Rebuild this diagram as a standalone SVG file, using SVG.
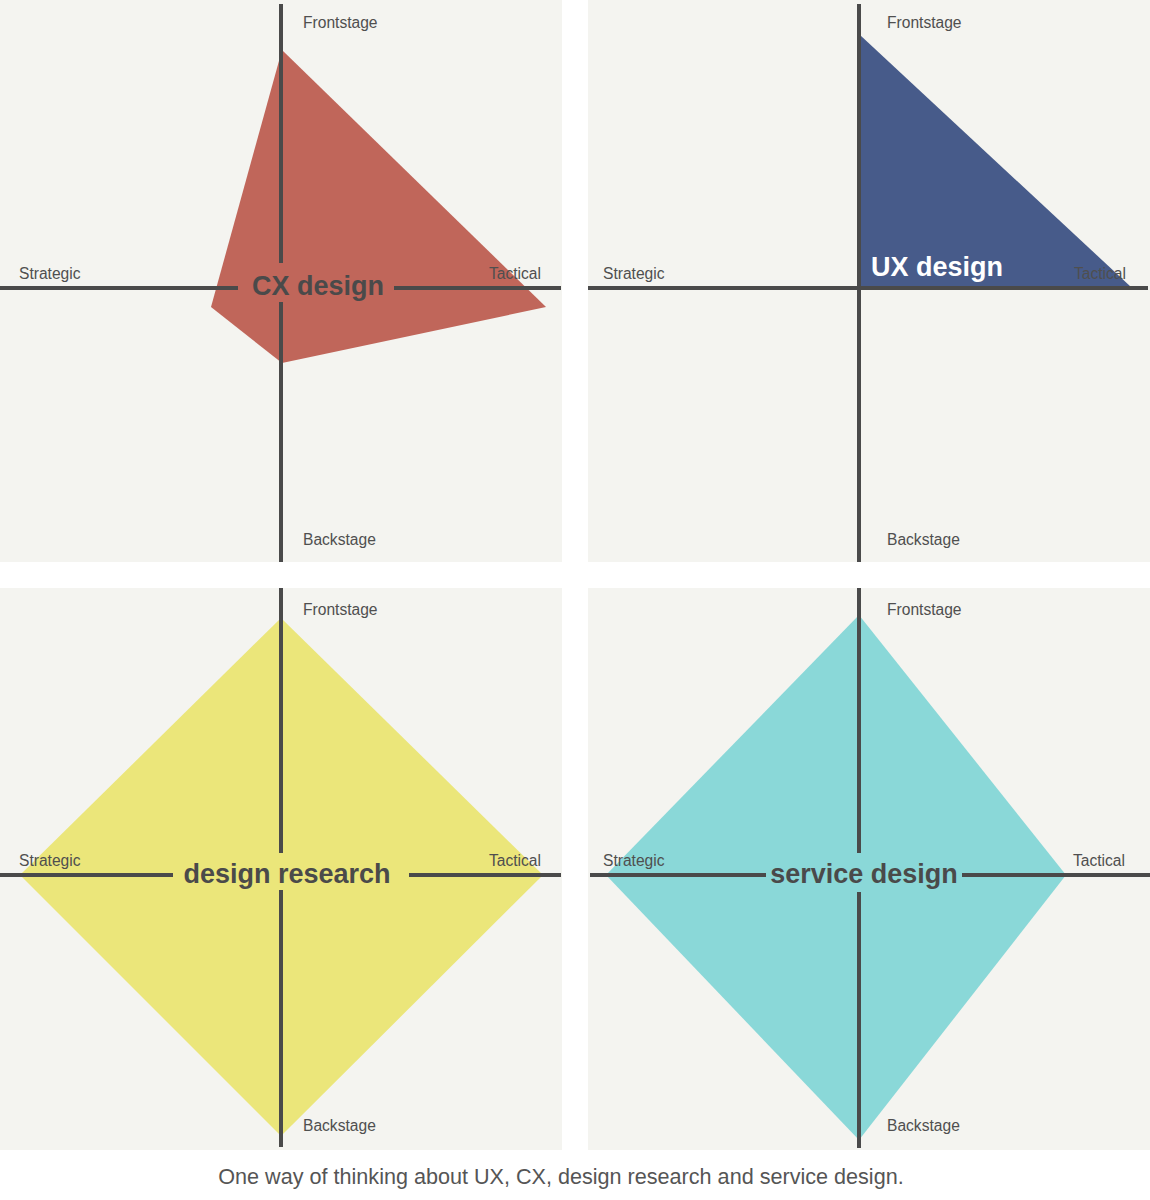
<svg xmlns="http://www.w3.org/2000/svg" width="1150" height="1200" viewBox="0 0 1150 1200">
<style>
.bg{fill:#f4f4f0}
.ax{stroke:#4a4a4a;stroke-width:4;fill:none}
.lbl{font-family:"Liberation Sans",Arial,sans-serif;font-size:15.6px;fill:#4f4f4f}
.big{font-family:"Liberation Sans",Arial,sans-serif;font-size:27px;font-weight:bold;fill:#4a4a4a}
.cap{font-family:"Liberation Sans",Arial,sans-serif;font-size:21.6px;fill:#555}
</style>
<rect width="1150" height="1200" fill="#ffffff"/>
<g id="panel-cx">
<rect class="bg" x="0" y="0" width="562" height="562"/>
<polygon points="282,50 546,307 282,363 211,307" fill="#c0665a"/>
</g>
<g id="panel-ux">
<rect class="bg" x="588" y="0" width="562" height="562"/>
<polygon points="860,35 1131,287 860,287" fill="#475b8a"/>
</g>
<g id="panel-dr">
<rect class="bg" x="0" y="588" width="562" height="562"/>
<polygon points="281,618 543,875 281,1136 20,875" fill="#ebe67a"/>
</g>
<g id="panel-sd">
<rect class="bg" x="588" y="588" width="562" height="562"/>
<polygon points="859,615 1066,875 859,1140 606,875" fill="#8ad8d8"/>
</g>
<g id="connectors">
<path class="ax" d="M281,4 V263 M281,302 V562 M0,288 H238 M394,288 H561"/>
<path class="ax" d="M859,4 V562 M588,288 H1148"/>
<path class="ax" d="M281,588 V853 M281,890 V1147 M0,875 H173 M409,875 H561"/>
<path class="ax" d="M859,588 V853 M859,892 V1148 M590,875 H766 M962,875 H1150"/>
</g>
<g id="labels-cx">
<text class="lbl" x="303" y="28">Frontstage</text>
<text class="lbl" x="19" y="279">Strategic</text>
<text class="lbl" x="541" y="279" text-anchor="end">Tactical</text>
<text class="lbl" x="303" y="545">Backstage</text>
<text class="big" x="318" y="295" text-anchor="middle">CX design</text>
</g>
<g id="labels-ux">
<text class="lbl" x="887" y="28">Frontstage</text>
<text class="lbl" x="603" y="279">Strategic</text>
<text class="lbl" x="1126" y="279" text-anchor="end">Tactical</text>
<text class="lbl" x="887" y="545">Backstage</text>
<text class="big" x="871" y="276" style="fill:#ffffff">UX design</text>
</g>
<g id="labels-dr">
<text class="lbl" x="303" y="615">Frontstage</text>
<text class="lbl" x="19" y="866">Strategic</text>
<text class="lbl" x="541" y="866" text-anchor="end">Tactical</text>
<text class="lbl" x="303" y="1131">Backstage</text>
<text class="big" x="287" y="883" text-anchor="middle">design research</text>
</g>
<g id="labels-sd">
<text class="lbl" x="887" y="615">Frontstage</text>
<text class="lbl" x="603" y="866">Strategic</text>
<text class="lbl" x="1125" y="866" text-anchor="end">Tactical</text>
<text class="lbl" x="887" y="1131">Backstage</text>
<text class="big" x="864" y="883" text-anchor="middle">service design</text>
</g>
<text class="cap" x="561" y="1184" text-anchor="middle">One way of thinking about UX, CX, design research and service design.</text>
</svg>
